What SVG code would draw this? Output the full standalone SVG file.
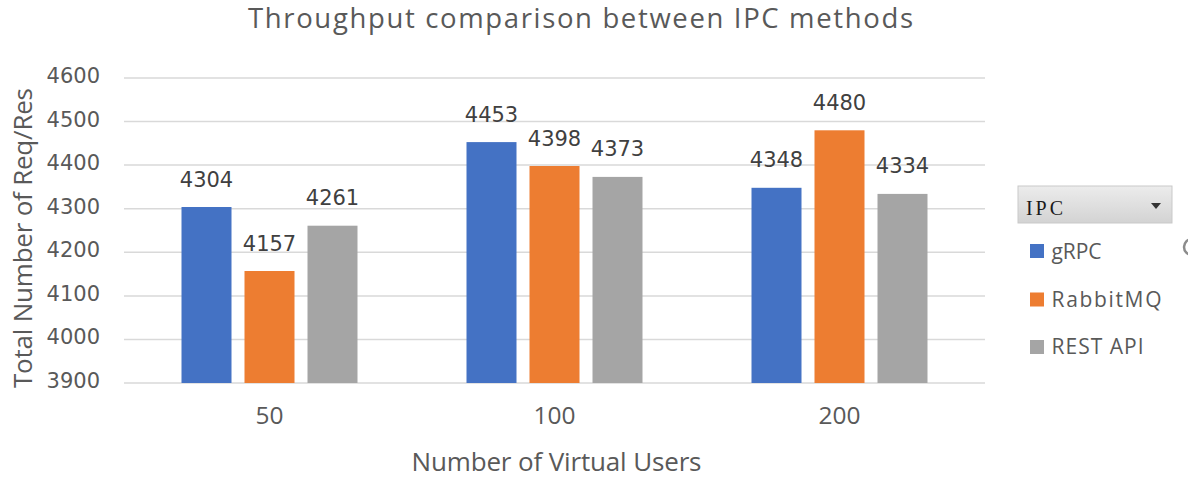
<svg xmlns="http://www.w3.org/2000/svg" width="1188" height="477" viewBox="0 0 1188 477">
<defs>
<style>
.grid{stroke:#d9d9d9;stroke-width:1.5}
.tick{font-family:"DejaVu Sans",sans-serif;font-size:21px;fill:#595959;text-anchor:end}
.val{font-family:"DejaVu Sans",sans-serif;font-size:21px;fill:#404040;text-anchor:middle}
.cat{font-family:"Open Sans",sans-serif;font-size:24.5px;fill:#595959;text-anchor:middle}
.axt{font-family:"Open Sans",sans-serif;font-size:26px;fill:#595959;text-anchor:middle}
.ttl{font-family:"Open Sans",sans-serif;font-size:27.5px;fill:#595959;text-anchor:start}
.leg{font-family:"Open Sans",sans-serif;font-size:21px;fill:#595959}
.b1{fill:#4472c4}.b2{fill:#ed7d31}.b3{fill:#a5a5a5}
</style>
<linearGradient id="hdr" x1="0" y1="0" x2="0" y2="1">
<stop offset="0" stop-color="#ececec"/><stop offset="1" stop-color="#d3d3d3"/>
</linearGradient>
</defs>
<rect width="1188" height="477" fill="#ffffff"/>
<text class="ttl" x="248" y="28" textLength="665" lengthAdjust="spacing">Throughput comparison between IPC methods</text>
<g id="gridlines">
<line class="grid" x1="124" y1="78" x2="985" y2="78"/>
<line class="grid" x1="124" y1="121.6" x2="985" y2="121.6"/>
<line class="grid" x1="124" y1="165.1" x2="985" y2="165.1"/>
<line class="grid" x1="124" y1="208.7" x2="985" y2="208.7"/>
<line class="grid" x1="124" y1="252.3" x2="985" y2="252.3"/>
<line class="grid" x1="124" y1="295.9" x2="985" y2="295.9"/>
<line class="grid" x1="124" y1="339.4" x2="985" y2="339.4"/>
<line class="grid" x1="124" y1="383" x2="985" y2="383"/>
</g>
<g id="y-axis">
<text class="tick" x="100" y="83">4600</text>
<text class="tick" x="100" y="126.6">4500</text>
<text class="tick" x="100" y="170.1">4400</text>
<text class="tick" x="100" y="213.7">4300</text>
<text class="tick" x="100" y="257.3">4200</text>
<text class="tick" x="100" y="300.9">4100</text>
<text class="tick" x="100" y="344.4">4000</text>
<text class="tick" x="100" y="388">3900</text>
<text class="axt" transform="translate(32 238) rotate(-90)" font-size="24" textLength="300" lengthAdjust="spacing">Total Number of Req/Res</text>
</g>
<g id="group-50">
<rect class="b1" x="181.5" y="207" width="50" height="176"/>
<rect class="b2" x="244.5" y="271" width="50" height="112"/>
<rect class="b3" x="307.5" y="225.7" width="50" height="157.3"/>
<text class="val" x="206.5" y="186.5">4304</text>
<text class="val" x="269.5" y="250.5">4157</text>
<text class="val" x="332.5" y="205.2">4261</text>
<text class="cat" x="269.5" y="424">50</text>
</g>
<g id="group-100">
<rect class="b1" x="466.5" y="142.1" width="50" height="240.9"/>
<rect class="b2" x="529.5" y="166" width="50" height="217"/>
<rect class="b3" x="592.5" y="176.9" width="50" height="206.1"/>
<text class="val" x="491.5" y="121.6">4453</text>
<text class="val" x="554.5" y="145.5">4398</text>
<text class="val" x="617.5" y="156.4">4373</text>
<text class="cat" x="554.5" y="424">100</text>
</g>
<g id="group-200">
<rect class="b1" x="751.5" y="187.8" width="50" height="195.2"/>
<rect class="b2" x="814.5" y="130.3" width="50" height="252.7"/>
<rect class="b3" x="877.5" y="193.9" width="50" height="189.1"/>
<text class="val" x="776.5" y="167.3">4348</text>
<text class="val" x="839.5" y="109.8">4480</text>
<text class="val" x="902.5" y="173.4">4334</text>
<text class="cat" x="839.5" y="424">200</text>
</g>
<text class="axt" x="556.5" y="470.5" textLength="290" lengthAdjust="spacing">Number of Virtual Users</text>
<g id="legend">
<rect x="1018" y="186" width="154" height="37" fill="url(#hdr)" stroke="#c9c9c9" stroke-width="1"/>
<text x="1026" y="215" font-family="Liberation Serif, serif" font-size="20" fill="#1a1a1a" textLength="37" lengthAdjust="spacing">IPC</text>
<polygon points="1151,203 1161,203 1156,209" fill="#333333"/>
<rect class="b1" x="1030" y="244" width="14" height="14"/>
<text class="leg" x="1051.5" y="258.5" textLength="50" lengthAdjust="spacing">gRPC</text>
<rect class="b2" x="1030" y="292.5" width="14" height="14"/>
<text class="leg" x="1051.5" y="306.5" textLength="110" lengthAdjust="spacing">RabbitMQ</text>
<rect class="b3" x="1030" y="340" width="14" height="14"/>
<text class="leg" x="1051.5" y="354" textLength="92" lengthAdjust="spacing">REST API</text>
<circle cx="1192" cy="247" r="8" fill="none" stroke="#8c8c8c" stroke-width="2.5"/>
</g>
</svg>
